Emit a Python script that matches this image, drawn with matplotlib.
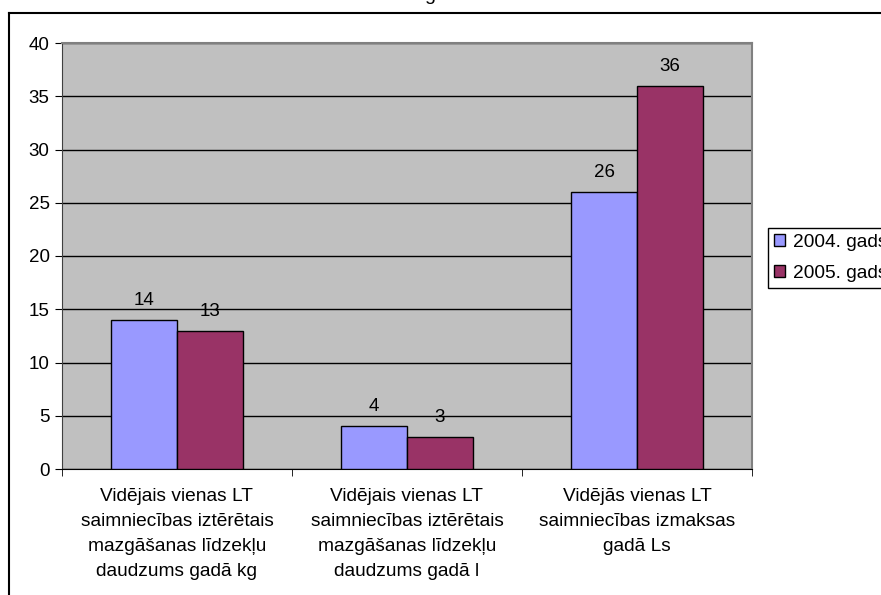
import matplotlib
matplotlib.use("Agg")
import matplotlib.pyplot as plt
import numpy as np
from matplotlib.lines import Line2D

categories = [
    "Vidējais vienas LT\nsaimniecības iztērētais\nmazgāšanas līdzekļu\ndaudzums gadā kg",
    "Vidējais vienas LT\nsaimniecības iztērētais\nmazgāšanas līdzekļu\ndaudzums gadā l",
    "Vidējās vienas LT\nsaimniecības izmaksas\ngadā Ls",
]
series_names = ["2004. gads", "2005. gads"]
values_2004 = [14, 4, 26]
values_2005 = [13, 3, 36]
y_ticks = [0, 5, 10, 15, 20, 25, 30, 35, 40]

plt.rcParams["font.family"] = ["Liberation Sans", "DejaVu Sans"]
W, H = 881, 595
fig = plt.figure(figsize=(W / 100, H / 100), dpi=100)

# outer chart border (cut off on right and bottom)
fig.add_artist(Line2D([9 / W, 9 / W], [0, 1 - 13 / H], color="black", lw=1.5,
                      transform=fig.transFigure))
fig.add_artist(Line2D([9 / W, 1], [1 - 13 / H, 1 - 13 / H], color="black", lw=1.5,
                      transform=fig.transFigure))
# cut-off title
fig.text(430 / W, 1.0, "g", ha="center", va="baseline", fontsize=14)

ax = fig.add_axes([62 / W, 1 - 469 / H, 690 / W, 426 / H])
ax.set_facecolor("#C0C0C0")

x = np.arange(len(categories))
w = 0.285
b1 = ax.bar(x - w / 2, values_2004, w, color="#9999FF", edgecolor="black", lw=1,
            label=series_names[0], zorder=3)
b2 = ax.bar(x + w / 2, values_2005, w, color="#993366", edgecolor="black", lw=1,
            label=series_names[1], zorder=3)

for bars, vals in [(b1, values_2004), (b2, values_2005)]:
    for r, v in zip(bars, vals):
        ax.annotate(str(v), (r.get_x() + r.get_width() / 2, v), xytext=(0, 11),
                    textcoords="offset pixels", ha="center", va="bottom",
                    fontsize=13.5)

ax.set_xlim(-0.5, 2.5)
ax.set_ylim(0, 40)
ax.set_yticks(y_ticks)
ax.yaxis.grid(True, color="black", lw=1, zorder=1)
ax.set_xticks(x)
ax.set_xticklabels(categories, fontsize=13.8, linespacing=1.6)
ax.set_xticks([-0.5, 0.5, 1.5, 2.5], minor=True)
ax.tick_params(axis="x", which="major", length=0, pad=14)
ax.tick_params(axis="x", which="minor", length=5, color="black", direction="out")
ax.tick_params(axis="y", length=5, labelsize=13.5, color="black", pad=4)
for s in ["top", "right"]:
    ax.spines[s].set_color("#808080")
    ax.spines[s].set_linewidth(1.5)
ax.spines["left"].set_color("#404040")
ax.spines["bottom"].set_color("black")

leg = fig.legend(handles=[b1, b2], loc="upper left",
                 bbox_to_anchor=(768 / W, 1 - 228 / H), fontsize=13.8,
                 frameon=True, fancybox=False, shadow=False, framealpha=1,
                 handlelength=0.6, handleheight=0.6, handletextpad=0.4,
                 borderpad=0.3, labelspacing=0.75, borderaxespad=0)
leg.get_frame().set_edgecolor("black")
leg.get_frame().set_linewidth(1)

plt.savefig("out.png", dpi=100)
print("Saved: out.png")
